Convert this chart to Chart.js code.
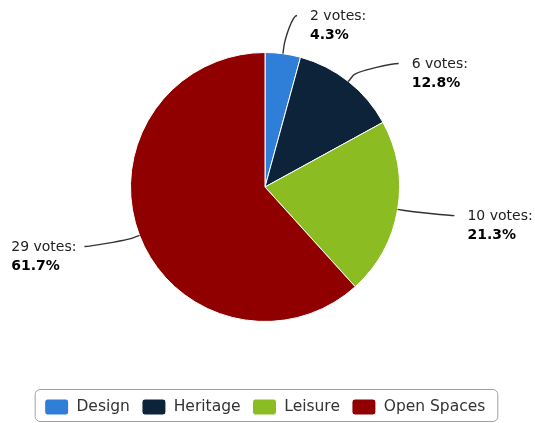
<!DOCTYPE html>
<html>
<head>
<meta charset="utf-8">
<script src="https://cdn.jsdelivr.net/npm/chart.js@4/dist/chart.umd.min.js"></script>
<style>
  html, body { margin: 0; padding: 0; background: #fff; overflow: hidden; }
  canvas { display: block; }
</style>
</head>
<body>
<canvas id="myChart" width="535" height="423"></canvas>
<script>
const categories = ['Design', 'Heritage', 'Leisure', 'Open Spaces'];
const votes = [2, 6, 10, 29];
const colors = ['#2f7ed8', '#0d233a', '#8bbc21', '#910000'];

const totalVotes = votes.reduce((a, b) => a + b, 0);
const labelFont = '14px "DejaVu Sans", Verdana, sans-serif';
const labelFontBold = 'bold 14px "DejaVu Sans", Verdana, sans-serif';

// highcharts style data labels with bent connectors
const pieLabels = {
  id: 'pieLabels',
  afterDatasetsDraw(chart) {
    const ctx = chart.ctx;
    const meta = chart.getDatasetMeta(0);
    const ds = chart.data.datasets[0];
    const R1 = 160, gap = 48;
    const items = meta.data.map((arc, i) => {
      const mid = (arc.startAngle + arc.endAngle) / 2;
      const dx = Math.cos(mid), dy = Math.sin(mid);
      const r = arc.outerRadius;
      return {
        i, cx: arc.x, cy: arc.y,
        right: dx >= 0,
        edge: { x: arc.x + r * dx, y: arc.y + r * dy },
        brk: { x: arc.x + (r + 7) * dx, y: arc.y + (r + 7) * dy },
        y: arc.y + R1 * dy + 2
      };
    });
    [true, false].forEach(side => {
      const s = items.filter(it => it.right === side).sort((a, b) => a.y - b.y);
      for (let k = s.length - 2; k >= 0; k--) {
        if (s[k + 1].y - s[k].y < gap) s[k].y = s[k + 1].y - gap;
      }
    });
    ctx.save();
    items.forEach(it => {
      const t = Math.max(-1, Math.min(1, (it.y - it.cy) / R1));
      const off = R1 * Math.sqrt(1 - t * t) + 32;
      const ex = it.right ? it.cx + off : it.cx - off;
      ctx.beginPath();
      ctx.strokeStyle = '#333';
      ctx.lineWidth = 1.4;
      ctx.moveTo(ex, it.y);
      ctx.bezierCurveTo(ex + (it.right ? -5 : 5), it.y,
        2 * it.brk.x - it.edge.x, 2 * it.brk.y - it.edge.y,
        it.brk.x, it.brk.y);
      ctx.lineTo(it.edge.x, it.edge.y);
      ctx.stroke();

      const line1 = ds.data[it.i] + ' votes:';
      const line2 = (ds.data[it.i] / totalVotes * 100).toFixed(1) + '%';
      let tx = ex + 13;
      if (!it.right) {
        ctx.font = labelFont;
        const w1 = ctx.measureText(line1).width;
        ctx.font = labelFontBold;
        const w2 = ctx.measureText(line2).width;
        tx = ex - 8 - Math.max(w1, w2);
      }
      ctx.textAlign = 'left';
      ctx.textBaseline = 'middle';
      ctx.fillStyle = '#222';
      ctx.font = labelFont;
      ctx.fillText(line1, tx, it.y + 0.5);
      ctx.fillStyle = '#000';
      ctx.font = labelFontBold;
      ctx.fillText(line2, tx, it.y + 20);
    });
    ctx.restore();
  }
};

// rounded frame around the legend
const legendFrame = {
  id: 'legendFrame',
  afterDraw(chart) {
    const boxes = chart.legend.legendHitBoxes;
    if (!boxes || !boxes.length) return;
    const left = Math.min(...boxes.map(b => b.left)) - 10;
    const right = Math.max(...boxes.map(b => b.left + b.width)) + 12;
    const top = boxes[0].top - 10;
    const bottom = boxes[0].top + boxes[0].height + 6;
    const ctx = chart.ctx;
    ctx.save();
    ctx.strokeStyle = '#a0a0a0';
    ctx.lineWidth = 1;
    ctx.beginPath();
    ctx.roundRect(left + 0.5, top + 0.5, right - left, bottom - top, 5);
    ctx.stroke();
    ctx.restore();
  }
};

new Chart(document.getElementById('myChart'), {
  type: 'pie',
  data: {
    labels: categories,
    datasets: [{
      data: votes,
      backgroundColor: colors,
      borderColor: '#fff',
      borderWidth: 1
    }]
  },
  options: {
    responsive: false,
    animation: false,
    layout: { padding: { top: 52, left: 0, right: 5, bottom: -2 } },
    plugins: {
      tooltip: { enabled: false },
      legend: {
        position: 'bottom',
        title: {
          display: true,
          text: '',
          font: { size: 10, lineHeight: 1 },
          padding: { top: 55, bottom: 0 }
        },
        labels: {
          boxWidth: 24,
          boxHeight: 16,
          useBorderRadius: true,
          borderRadius: 3,
          padding: 12,
          color: '#333',
          font: { family: '"DejaVu Sans", Verdana, sans-serif', size: 15.5 }
        }
      }
    }
  },
  plugins: [pieLabels, legendFrame]
});
</script>
</body>
</html>
